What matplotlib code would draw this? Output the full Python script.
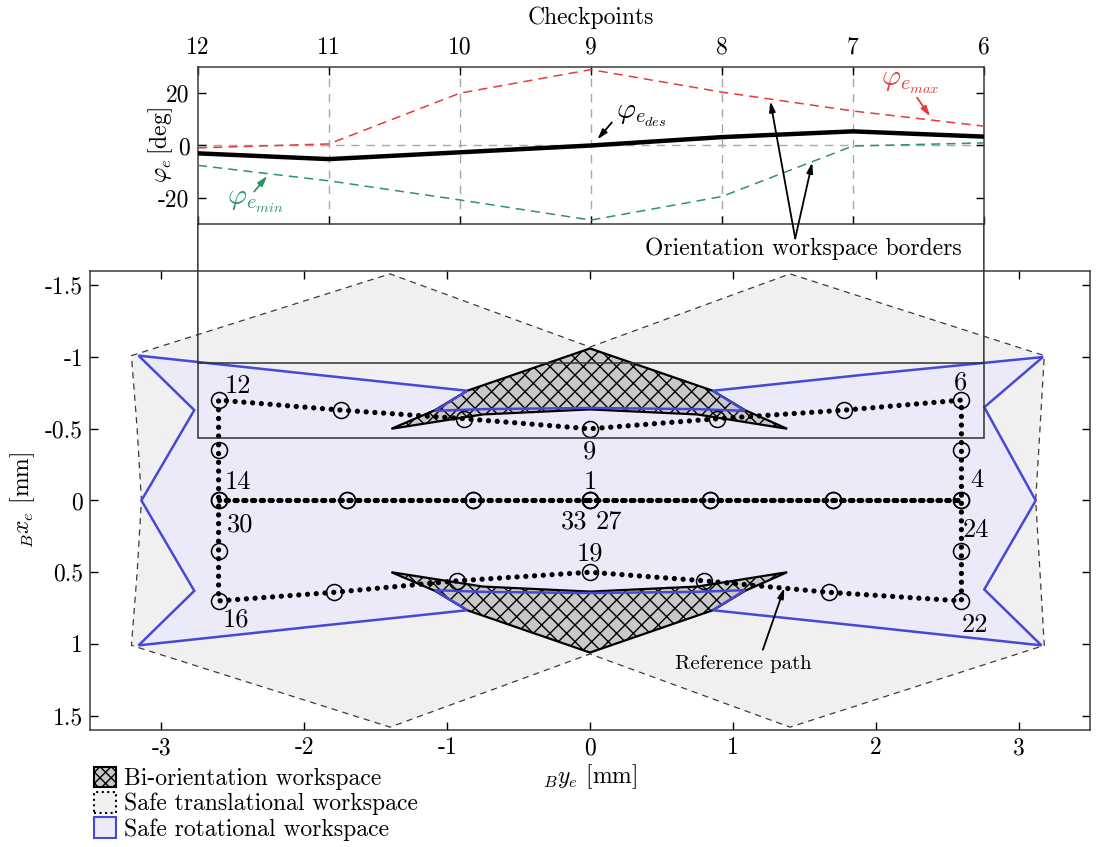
import matplotlib
matplotlib.use("Agg")
import matplotlib.pyplot as plt
from matplotlib.patches import Polygon, Patch, Rectangle, ConnectionPatch
import numpy as np

plt.rcParams['font.family'] = 'serif'
plt.rcParams['font.serif'] = ['cmr10']
plt.rcParams['mathtext.fontset'] = 'cm'
plt.rcParams['axes.unicode_minus'] = False
plt.rcParams['axes.formatter.use_mathtext'] = True
plt.rcParams['hatch.linewidth'] = 1.0

# ---------------- data ----------------
# top plot: checkpoints 12 -> 6
checkpoints = ['12', '11', '10', '9', '8', '7', '6']
phi_des = [-3.0, -5.2, -2.6, 0.0, 3.2, 5.4, 3.4]
phi_max = [-0.9, 0.6, 20.0, 29.0, 20.4, 13.2, 7.4]
phi_min = [-7.6, -13.5, -20.8, -28.5, -19.5, -0.2, 1.0]
top_yticks = [20, 0, -20]

# main plot (y_B horizontal, x_B vertical)
path_y = [0.0, 0.84, 1.70, 2.60, 2.60, 2.60, 1.78, 0.89, 0.0, -0.88, -1.74, -2.60,
          -2.60, -2.60, -2.60, -2.60, -1.79, -0.93, 0.0, 0.80, 1.67, 2.60,
          2.60, 2.60, 1.70, 0.84, 0.0, -0.82, -1.70, -2.60, -1.70, -0.82, 0.0]
path_x = [0.0, 0.0, 0.0, 0.0, -0.35, -0.70, -0.63, -0.57, -0.50, -0.57, -0.63, -0.70,
          -0.35, 0.0, 0.35, 0.70, 0.64, 0.56, 0.50, 0.56, 0.64, 0.70,
          0.35, 0.0, 0.0, 0.0, 0.0, 0.0, 0.0, 0.0, 0.0, 0.0, 0.0]

trans_y = [-3.21, -1.40, 0.0, 1.40, 3.18, 3.15, 3.12, 3.15, 3.18, 1.40, 0.0, -1.40, -3.21, -3.17, -3.14, -3.17]
trans_x = [-1.01, -1.58, -1.07, -1.58, -1.01, -0.50, 0.0, 0.50, 1.01, 1.58, 1.07, 1.58, 1.01, 0.50, 0.0, -0.50]

rot_y = [-3.16, -1.90, -0.86, -1.085, -0.75, 0.0, 0.75, 1.085, 0.86, 1.90, 3.17, 2.76, 3.12, 2.76, 3.16,
         1.90, 0.86, 1.085, 0.75, 0.0, -0.75, -1.085, -0.86, -1.90, -3.16, -2.77, -3.14, -2.77]
rot_x = [-1.01, -0.875, -0.765, -0.625, -0.637, -0.645, -0.637, -0.625, -0.765, -0.875, -1.00, -0.65, 0.0, 0.62, 1.01,
         0.875, 0.765, 0.625, 0.637, 0.645, 0.637, 0.625, 0.765, 0.875, 1.01, 0.63, 0.0, -0.63]

bi_y = [-1.39, -1.085, -0.86, 0.0, 0.86, 1.085, 1.38, 0.75, 0.0, -0.75]
bi_x = [-0.50, -0.63, -0.765, -1.06, -0.765, -0.63, -0.50, -0.60, -0.635, -0.60]

labels = ['12', '6', '14', '30', '4', '24', '16', '22', '9', '1', '33', '27', '19']
label_y = [-2.56, 2.55, -2.56, -2.54, 2.66, 2.61, -2.57, 2.60, 0.0, 0.0, -0.11, 0.13, 0.0]
label_x = [-0.80, -0.82, -0.13, 0.17, -0.14, 0.21, 0.83, 0.87, -0.34, -0.13, 0.15, 0.15, 0.37]
label_ha = ['left', 'left', 'left', 'left', 'left', 'left', 'left', 'left',
            'center', 'center', 'center', 'center', 'center']

xt_main = [-3, -2, -1, 0, 1, 2, 3]
yt_main = [-1.5, -1, -0.5, 0, 0.5, 1, 1.5]

# ---------------- style ----------------
FS = 17
BLUE = '#4848d6'
LAV = '#eaeaf8'
LGRAY = '#f0f0f0'
HGRAY = '#c8c8c8'
RED = '#e83a3a'
GREEN = '#2e9466'
SPINE = '#3a3a3a'

fig = plt.figure(figsize=(10.97, 8.47), dpi=100)
W, H = 1097, 847
ax = fig.add_axes([90 / W, 1 - 730 / H, 1000 / W, 459 / H])
ax.set_xlim(-3.5, 3.5)
ax.set_ylim(1.6, -1.6)

# translational workspace
ax.add_patch(Polygon(np.column_stack([trans_y, trans_x]), closed=True, facecolor=LGRAY,
                     edgecolor='#3c3c3c', linestyle=(0, (5, 4)), linewidth=0.9, zorder=1))
# rotational workspace (fill)
rot_xy = np.column_stack([rot_y, rot_x])
ax.add_patch(Polygon(rot_xy, closed=True, facecolor=LAV, edgecolor='none', zorder=2))
# bi-orientation workspaces
bi_top = np.column_stack([bi_y, bi_x])
bi_bot = np.column_stack([bi_y, [-v for v in bi_x]])
for xy in (bi_top, bi_bot):
    ax.add_patch(Polygon(xy, closed=True, facecolor=HGRAY, edgecolor='black', hatch='xx',
                         linewidth=1.6, zorder=3))
# rotational outline on top
ax.add_patch(Polygon(rot_xy, closed=True, facecolor='none', edgecolor=BLUE, linewidth=1.8, zorder=4))

# reference path
ax.plot(path_y, path_x, color='black', linewidth=3.8, linestyle=(0, (0.01, 1.65)),
        dash_capstyle='round', zorder=6)
ax.plot(path_y, path_x, linestyle='none', marker='o', markersize=11.5, markerfacecolor='none',
        markeredgecolor='black', markeredgewidth=1.1, zorder=7)

for t, yy, xx, ha in zip(labels, label_y, label_x, label_ha):
    ax.text(yy, xx, t, fontsize=FS + 2, ha=ha, va='center', zorder=8)

# zoom rectangle
rect_y0, rect_y1 = -2.745, 2.757
rect_x0, rect_x1 = -0.958, -0.436
ax.add_patch(Rectangle((rect_y0, rect_x0), rect_y1 - rect_y0, rect_x1 - rect_x0, fill=False,
                       edgecolor='#303030', linewidth=1.1, zorder=9))

ax.annotate('', xy=(1.36, 0.61), xytext=(1.21, 1.04),
            arrowprops=dict(arrowstyle='-|>,head_length=0.6,head_width=0.18', color='black', lw=1.3,
                            shrinkA=0, shrinkB=0), zorder=10)
ax.text(1.07, 1.14, 'Reference path', fontsize=15, ha='center', va='center', zorder=10)

ax.set_xticks(xt_main)
ax.set_xticklabels([str(v) for v in xt_main])
ax.set_yticks(yt_main)
ax.set_yticklabels(['-1.5', '-1', '-0.5', '0', '0.5', '1', '1.5'])
ax.tick_params(direction='in', top=True, right=True, length=6, width=1, labelsize=FS, colors='black', pad=5)
for s in ax.spines.values():
    s.set_color(SPINE)
    s.set_linewidth(1.1)
ax.set_xlabel(r'${}_{B}y_e$ [mm]', fontsize=FS, labelpad=2)
ax.set_ylabel(r'${}_{B}x_e$ [mm]', fontsize=FS, labelpad=6)

# legend
handles = [Patch(facecolor=HGRAY, edgecolor='black', hatch='xxx', linewidth=1.5),
           Patch(facecolor=LGRAY, edgecolor='black', linestyle=':', linewidth=1.5),
           Patch(facecolor=LAV, edgecolor=BLUE, linewidth=1.5)]
fig.legend(handles, ['Bi-orientation workspace', 'Safe translational workspace', 'Safe rotational workspace'],
           loc='upper left', bbox_to_anchor=(81 / W, 1 - 754 / H), frameon=False, fontsize=FS,
           handlelength=0.95, handleheight=0.95, handletextpad=0.3, labelspacing=0.08, borderpad=0.05)

# ---------------- top plot ----------------
fig.canvas.draw()
p0 = ax.transData.transform((rect_y0, rect_x0))
p1 = ax.transData.transform((rect_y1, rect_x0))
left = p0[0] / W
right = p1[0] / W
axt = fig.add_axes([left, 1 - 224 / H, right - left, 157 / H])
xs = np.arange(len(checkpoints))
axt.set_xlim(0, len(checkpoints) - 1)
axt.set_ylim(-30, 30)
for xv in xs[1:-1]:
    axt.axvline(xv, color='#a8a8a8', linestyle=(0, (6, 5)), linewidth=1.0, zorder=1)
axt.axhline(0, color='#a8a8a8', linestyle=(0, (6, 5)), linewidth=1.0, zorder=1)
axt.plot(xs, phi_max, color=RED, linestyle=(0, (6, 4)), linewidth=1.1, zorder=3)
axt.plot(xs, phi_min, color=GREEN, linestyle=(0, (6, 4)), linewidth=1.1, zorder=3)
axt.plot(xs, phi_des, color='black', linewidth=3.2, zorder=4)

axt.set_xticks(xs)
axt.set_xticklabels(checkpoints)
axt.xaxis.tick_top()
axt.xaxis.set_label_position('top')
axt.set_xlabel('Checkpoints', fontsize=FS, labelpad=9)
axt.set_yticks(top_yticks)
axt.set_yticklabels([str(v) for v in top_yticks])
axt.tick_params(direction='in', top=True, bottom=True, left=True, right=True, length=6, width=1,
                labelsize=FS, labeltop=True, labelbottom=False, pad=6)
axt.set_ylabel(r'$\varphi_e\,$[deg]', fontsize=FS)
axt.yaxis.set_label_coords(-0.029, 0.5)
for s in axt.spines.values():
    s.set_color(SPINE)
    s.set_linewidth(1.1)

arrow = lambda c: dict(arrowstyle='-|>,head_length=0.6,head_width=0.18', color=c, lw=1.3,
                       shrinkA=0, shrinkB=0)
axt.annotate('', xy=(3.05, 2.3), xytext=(3.16, 8.8), arrowprops=arrow('black'), annotation_clip=False)
axt.text(3.19, 11.5, r'$\varphi_{e_{des}}$', fontsize=FS + 4, ha='left', va='center')
axt.annotate('', xy=(5.59, 11.1), xytext=(5.49, 18.3), arrowprops=arrow(RED), annotation_clip=False)
axt.text(5.44, 24.0, r'$\varphi_{e_{max}}$', fontsize=FS + 4, ha='center', va='center', color=RED)
axt.annotate('', xy=(0.53, -11.6), xytext=(0.43, -17.6), arrowprops=arrow(GREEN), annotation_clip=False)
axt.text(0.44, -21.5, r'$\varphi_{e_{min}}$', fontsize=FS + 4, ha='center', va='center', color=GREEN)
axt.annotate('', xy=(4.37, 16.9), xytext=(4.56, -35.5), arrowprops=arrow('black'), annotation_clip=False)
axt.annotate('', xy=(4.69, -6.5), xytext=(4.56, -35.5), arrowprops=arrow('black'), annotation_clip=False)
axt.text(4.62, -39.5, 'Orientation workspace borders', fontsize=FS, ha='center', va='center')

# connection lines from zoom rectangle to top plot
for (py, fx) in ((rect_y0, 0), (rect_y1, 1)):
    cp = ConnectionPatch(xyA=(py, rect_x0), coordsA=ax.transData, xyB=(fx, 0), coordsB=axt.transAxes,
                         color='#303030', linewidth=1.1)
    fig.add_artist(cp)

fig.savefig('out.png', dpi=100)
